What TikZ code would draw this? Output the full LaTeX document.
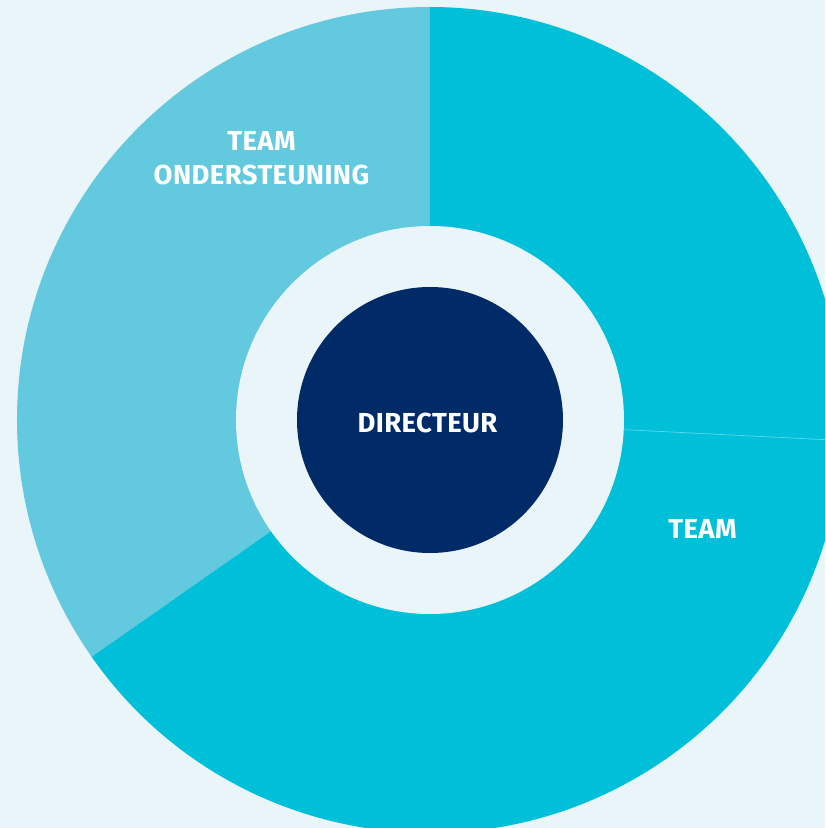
\documentclass[tikz,border=0pt]{standalone}
\usepackage{fontspec}
\setmainfont{Fira Sans}[LetterSpace=1.5]
\definecolor{bgblue}{HTML}{EAF5FA}
\definecolor{teamlight}{HTML}{62C9DE}
\definecolor{teamdark}{HTML}{00BFD8}
\definecolor{navy}{HTML}{002B66}

\begin{document}
\begin{tikzpicture}[x=0.75pt, y=0.75pt,
    ring/.style = {circle, fill=bgblue, inner sep=0pt, minimum size=291pt},
    core/.style = {circle, fill=navy, inner sep=0pt, minimum size=199.5pt},
    lbl/.style = {text=white, align=center, font=\bfseries\fontsize{20.6}{25.5}\selectfont}]
    % Frame
    \clip (-430,-408) rectangle (395,420);
    \fill[bgblue] (-430,-408) rectangle (395,420);

    % Segments
    \fill[teamlight] (0,0) -- (90:413) arc (90:215:413) -- cycle;
    \fill[teamdark] (0,0) -- (215:413) arc (215:450:413) -- cycle;
    \draw[white, opacity=0.35, line width=0.6pt] (-2.85:190) -- (-2.85:420);

    % Nodes
    \node[ring] (ring) at (0,0) {};
    \node[core] (dir) at (0,0) {};
    \node[lbl] (dirlbl) at (-2.5,-3) {DIRECTEUR};
    \node[lbl] (ond) at (-168.5,262) {TEAM\\ONDERSTEUNING};
    \node[lbl] (team) at (272.5,-108.5) {TEAM};

\end{tikzpicture}
\end{document}
